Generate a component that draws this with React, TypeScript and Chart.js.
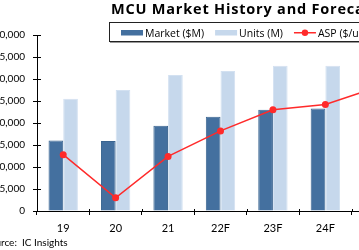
import React, { useEffect, useRef } from "react";
import { Chart, registerables } from "chart.js";

Chart.register(...registerables);

// ---- data ----
const categories = ["19", "20", "21", "22F", "23F", "24F", "25F"];
const marketValues = [16000, 15900, 19400, 21400, 23000, 23300, 24600];
const unitValues = [25500, 27500, 30900, 31800, 33000, 33000, 34500];
const aspValues = [0.614, 0.565, 0.612, 0.641, 0.665, 0.671, 0.691];
const leftAxisMin = 0;
const leftAxisMax = 40000;
const leftAxisStep = 5000;
const rightAxisMin = 0.55;
const rightAxisMax = 0.75;
const chartTitle = "MCU Market History and Forecast";
const seriesNames = ["Market ($M)", "Units (M)", "ASP ($/unit)"];
const sourceText = "Source:  IC Insights";
const sourceAnchor = "IC Insights";

const DARK = "#44709f";
const DARK_EDGE = "#3a6490";
const LIGHT = "#c6d8ec";
const LIGHT_EDGE = "#d3e1f1";
const RED = "#ff2a2a";
const FONT = "Lato, 'Liberation Sans', sans-serif";
const FONT2 = "'Open Sans', 'Liberation Sans', sans-serif";

const decorPlugin = {
  id: "decor",
  afterDraw(chart: any) {
    const ctx: CanvasRenderingContext2D = chart.ctx;
    const ca = chart.chartArea;
    const ys = chart.scales.y;
    const n = categories.length;
    ctx.save();
    // inner tick marks
    ctx.strokeStyle = "#000";
    ctx.lineWidth = 1;
    ctx.beginPath();
    ys.ticks.forEach((_t: any, i: number) => {
      const y = Math.round(ys.getPixelForTick(i)) + 0.5;
      ctx.moveTo(ca.left, y);
      ctx.lineTo(ca.left + 4, y);
    });
    for (let i = 0; i <= n; i++) {
      const x = Math.round(ca.left + (i * (ca.right - ca.left)) / n) + 0.5;
      ctx.moveTo(x, ca.bottom - 2);
      ctx.lineTo(x, ca.bottom);
    }
    ctx.stroke();

    // title
    ctx.fillStyle = "#000";
    ctx.textAlign = "left";
    ctx.textBaseline = "alphabetic";
    ctx.font = `bold 14.5px ${FONT2}`;
    (ctx as any).letterSpacing = "0.8px";
    ctx.fillText(chartTitle, 111, 13.5);
    (ctx as any).letterSpacing = "0px";

    // legend frame
    ctx.strokeStyle = "#222";
    ctx.lineWidth = 1;
    ctx.strokeRect(109.5, 22.5, 320, 19);
    ctx.strokeStyle = "#999";
    ctx.beginPath();
    ctx.moveTo(110, 42.5);
    ctx.lineTo(430, 42.5);
    ctx.stroke();

    // legend items
    ctx.font = `10.5px ${FONT2}`;
    let x = 121;
    const boxW = 22;
    const gapText = 2;
    const gapItem = 11;
    const base = 36.5;
    seriesNames.forEach((name, i) => {
      if (i === 0 || i === 1) {
        ctx.fillStyle = i === 0 ? DARK : LIGHT;
        ctx.fillRect(x, 30, boxW, 5.5);
      } else {
        ctx.strokeStyle = RED;
        ctx.lineWidth = 1.5;
        ctx.beginPath();
        ctx.moveTo(x, 32.75);
        ctx.lineTo(x + boxW, 32.75);
        ctx.stroke();
        ctx.fillStyle = RED;
        ctx.beginPath();
        ctx.arc(x + boxW / 2, 32.75, 3.2, 0, Math.PI * 2);
        ctx.fill();
      }
      ctx.fillStyle = "#000";
      const tx = x + boxW + gapText;
      ctx.fillText(name, tx, base);
      x = tx + ctx.measureText(name).width + gapItem;
    });

    // source
    ctx.font = `10px ${FONT}`;
    const prefix = sourceText.slice(0, sourceText.indexOf(sourceAnchor));
    const sx = 22 - ctx.measureText(prefix).width;
    ctx.fillText(sourceText, sx, 246);
    ctx.restore();
  },
};

export default function App() {
  const ref = useRef<HTMLCanvasElement | null>(null);
  useEffect(() => {
    if (!ref.current) return;
    const chart = new Chart(ref.current, {
      type: "bar",
      data: {
        labels: categories,
        datasets: [
          {
            type: "line",
            label: seriesNames[2],
            data: aspValues,
            yAxisID: "y1",
            borderColor: RED,
            backgroundColor: RED,
            borderWidth: 1.5,
            pointRadius: 3.5,
            pointBorderWidth: 0,
            pointBackgroundColor: RED,
            tension: 0,
            order: 0,
          } as any,
          {
            type: "bar",
            label: seriesNames[0],
            data: marketValues,
            yAxisID: "y",
            backgroundColor: DARK,
            borderColor: DARK_EDGE,
            borderWidth: 1,
            categoryPercentage: 0.56,
            barPercentage: 1,
            order: 1,
          },
          {
            type: "bar",
            label: seriesNames[1],
            data: unitValues,
            yAxisID: "y",
            backgroundColor: LIGHT,
            borderColor: LIGHT_EDGE,
            borderWidth: 1,
            categoryPercentage: 0.56,
            barPercentage: 1,
            order: 1,
          },
        ],
      },
      options: {
        responsive: false,
        animation: false,
        devicePixelRatio: 1,
        layout: { padding: { top: 35, right: 40, bottom: 0, left: 0 } },
        plugins: {
          legend: { display: false },
          title: { display: false },
          tooltip: { enabled: false },
        },
        scales: {
          x: {
            offset: true,
            grid: {
              display: true,
              drawOnChartArea: false,
              offset: true,
              color: "#000",
              tickLength: 4,
            },
            border: { display: true, color: "#000", width: 1 },
            ticks: {
              color: "#000",
              font: { family: FONT, size: 11 },
              padding: 7,
              maxRotation: 0,
            },
            afterFit: (s: any) => {
              s.height = 39;
            },
          },
          y: {
            position: "left",
            min: leftAxisMin,
            max: leftAxisMax,
            grid: {
              display: true,
              drawOnChartArea: false,
              color: "#000",
              tickLength: 4,
            },
            border: { display: true, color: "#000", width: 1 },
            ticks: {
              stepSize: leftAxisStep,
              color: "#000",
              font: { family: FONT, size: 10 },
              padding: 8,
              callback: (v: any) => Number(v).toLocaleString("en-US"),
            },
            afterFit: (s: any) => {
              s.width = 37;
            },
          },
          y1: {
            position: "right",
            display: false,
            min: rightAxisMin,
            max: rightAxisMax,
          },
        },
      },
      plugins: [decorPlugin],
    });
    return () => chart.destroy();
  }, []);

  return (
    <div
      style={{
        position: "absolute",
        left: 0,
        top: 0,
        width: 359,
        height: 250,
        overflow: "hidden",
        background: "#fff",
      }}
    >
      <canvas ref={ref} width={444} height={250} style={{ display: "block" }} />
    </div>
  );
}
